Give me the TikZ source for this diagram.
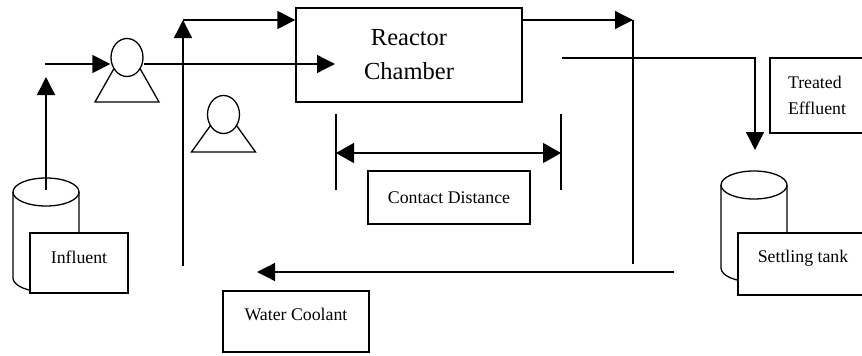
\documentclass[tikz,border=0pt]{standalone}
\usepackage{fontspec}
\setmainfont{Liberation Serif}
\usetikzlibrary{arrows.meta,calc,shapes.geometric}
\def\pump(#1)(#2){\draw ($(#1)+(-13,11)$) -- ($(#1)+(-32,#2)$) -- ($(#1)+(32,#2)$) -- ($(#1)+(13,11)$);}
\def\tank(#1,#2,#3){\draw (#1,#2) ellipse (33 and 14);
	\draw (#1-33,#2) -- (#1-33,#3) arc (180:0:33 and 14) -- (#1+33,#2);}
\tikzset{
	box/.style={draw, fill=white, inner sep=0pt, font=\fontsize{17.8}{26}\selectfont},
	flow/.style={-{Triangle[length=18pt,width=18pt]}},
	pumphead/.style={draw, ellipse, inner sep=0pt, minimum width=32pt, minimum height=38pt}
}
\begin{document}
\begin{tikzpicture}[x=1pt,y=-1pt,line width=1.3pt]
	\useasboundingbox (0,0) rectangle (862,356);
	\clip (0,0) rectangle (862,356);
	
	\tank(46,192,278)
	\tank(754,185,268)
	
	\node[pumphead] (pumpA) at (127,57.5) {};
	\pump(pumpA)(44.5)
	\node[pumphead] (pumpB) at (223.5,114.5) {};
	\pump(pumpB)(37.5)
	
	\node[box, minimum width=226pt, minimum height=94pt, align=center, font=\fontsize{24.5}{34}\selectfont] (reactor) at (409,55) {Reactor\\Chamber};
	\node[box, minimum width=162pt, minimum height=53pt] (contact) at (449,197.5) {Contact Distance};
	\node[box, minimum width=94pt, minimum height=75pt, align=left] (effluent) at (817,95.5) {Treated\\Effluent};
	\node[box, minimum width=130pt, minimum height=62pt, text depth=16pt] (settling) at (803,264) {Settling tank};
	\node[box, minimum width=98pt, minimum height=60pt, text depth=12pt] (influent) at (79,263) {Influent};
	\node[box, minimum width=146pt, minimum height=61pt, text depth=15pt] (coolant) at (296,321.5) {Water Coolant};
	
	\coordinate (tankTop) at (46,190);
	\coordinate (tankUp) at (46,77);
	\coordinate (feed) at (45,64);
	\coordinate (inlet) at (335,64);
	\draw[flow] (tankTop) -- (tankUp);
	\draw[flow] (feed) -- (feed -| pumpA.west);
	\draw[flow] (pumpA.east |- feed) -- (inlet);
	
	\coordinate (coolBottom) at (183,266);
	\coordinate (coolTop) at (183,20);
	\draw[flow] (coolBottom) -- (coolTop);
	\draw[flow] (coolTop) -- (coolTop -| reactor.west);
	
	\coordinate (outTop) at (633,20);
	\coordinate (outBottom) at (633,264);
	\draw[flow] (reactor.east |- outTop) -- (outTop);
	\draw (outTop) -- (outBottom);
	
	\coordinate (retStart) at (674,272);
	\coordinate (retEnd) at (257,272);
	\draw[flow] (retStart) -- (retEnd);
	
	\coordinate (effStart) at (562,58);
	\coordinate (effTurn) at (755,58);
	\coordinate (effEnd) at (755,150);
	\draw[flow] (effStart) -- (effTurn) -- (effEnd);
	
	\coordinate (barL) at (336,114);
	\coordinate (barR) at (561,114);
	\draw (barL) -- ++(0,76);
	\draw (barR) -- ++(0,76);
	\draw[{Triangle[length=18pt,width=20pt]}-{Triangle[length=18pt,width=20pt]}] ($(barL)+(0,39)$) -- ($(barR)+(0,39)$);
\end{tikzpicture}
\end{document}
